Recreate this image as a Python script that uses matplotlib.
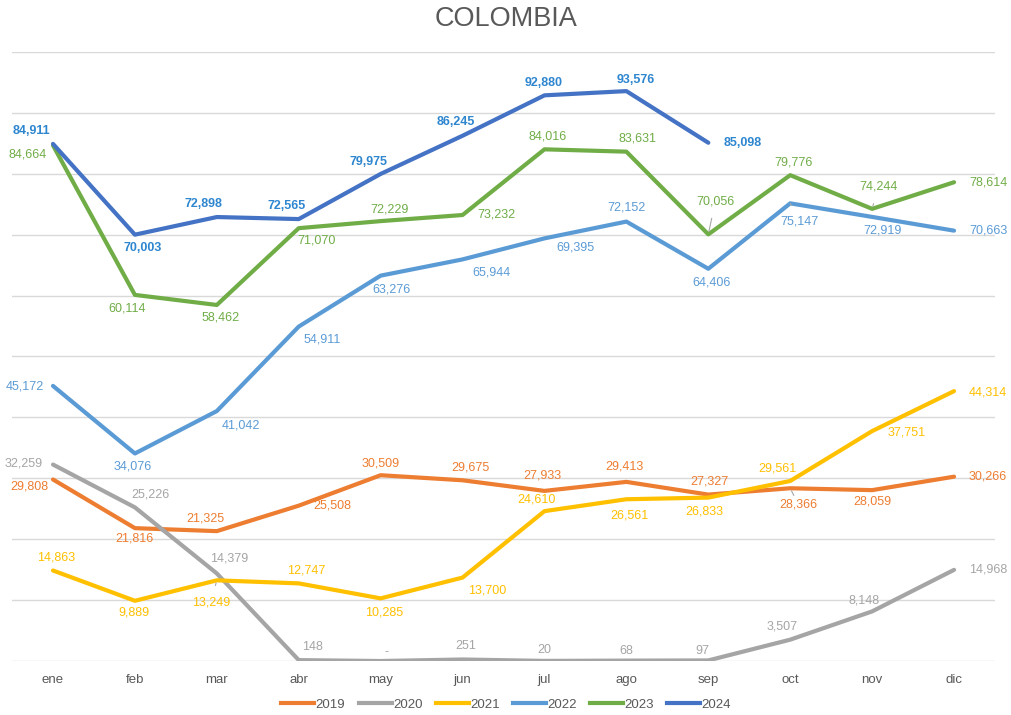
import matplotlib
matplotlib.use("Agg")
import matplotlib.pyplot as plt
from matplotlib.lines import Line2D

plt.rcParams['font.family'] = ['Liberation Sans', 'DejaVu Sans']

meses = ['ene', 'feb', 'mar', 'abr', 'may', 'jun', 'jul', 'ago', 'sep', 'oct', 'nov', 'dic']

v2019 = [29808, 21816, 21325, 25508, 30509, 29675, 27933, 29413, 27327, 28366, 28059, 30266]
v2020 = [32259, 25226, 14379, 148, 0, 251, 20, 68, 97, 3507, 8148, 14968]
v2021 = [14863, 9889, 13249, 12747, 10285, 13700, 24610, 26561, 26833, 29561, 37751, 44314]
v2022 = [45172, 34076, 41042, 54911, 63276, 65944, 69395, 72152, 64406, 75147, 72919, 70663]
v2023 = [84664, 60114, 58462, 71070, 72229, 73232, 84016, 83631, 70056, 79776, 74244, 78614]
v2024 = [84911, 70003, 72898, 72565, 79975, 86245, 92880, 93576, 85098]

# label offsets in pixels (dx, dy with dy downwards)
off2019 = [(-24, 7), (0, 10), (-11, -13), (34, 0), (0, -12), (8, -13), (-2, -15), (-2, -15), (1, -13), (8, 16), (0, 11), (34, 0)]
off2020 = [(-29, -1), (16, -13), (12, -15), (14, -13), (6, -9), (3, -13), (0, -11), (0, -10), (-6, -9), (-8, -13), (-8, -11), (34, 0)]
off2021 = [(3, -13), (-1, 12), (-6, 22), (8, -13), (3, 14), (25, 13), (-8, -12), (3, 16), (-4, 14), (-13, -12), (34, 1), (34, 1)]
off2022 = [(-28, 1), (-2, 13), (24, 14), (23, 13), (11, 14), (29, 13), (31, 9), (0, -14), (3, 14), (9, 18), (10, 14), (34, 0)]
off2023 = [(-25, 9), (-8, 14), (4, 13), (18, 12), (9, -12), (34, -1), (3, -13), (11, -13), (7, -33), (3, -13), (6, -22), (34, 0)]
off2024 = [(-22, -13), (8, 13), (-13, -13), (-12, -13), (-12, -12), (-7, -14), (-1, -12), (9, -11), (34, 0)]

lider2019 = [9]
lider2021 = [2]
lider2022 = [9]
lider2023 = [8, 10]

series = [
    ('2019', v2019, off2019, lider2019, '#ED7D31', '#ED7D31', 'normal'),
    ('2020', v2020, off2020, [], '#A5A5A5', '#A5A5A5', 'normal'),
    ('2021', v2021, off2021, lider2021, '#FFC000', '#FFC000', 'normal'),
    ('2022', v2022, off2022, lider2022, '#5B9BD5', '#5B9BD5', 'normal'),
    ('2023', v2023, off2023, lider2023, '#70AD47', '#70AD47', 'normal'),
    ('2024', v2024, off2024, [], '#4472C4', '#2E86CF', 'bold'),
]

fig = plt.figure(figsize=(10.12, 7.15), dpi=100)
ax = fig.add_axes([0.0119, 0.0755, 0.9713, 0.8518])

for nombre, vals, offs, lider, col, tcol, peso in series:
    x = list(range(len(vals)))
    ax.plot(x, vals, color=col, lw=3, solid_capstyle='round', solid_joinstyle='round', zorder=3)
    for i, v in enumerate(vals):
        txt = '-' if v == 0 else f'{v:,}'
        dx, dy = offs[i]
        kw = {}
        if i in lider:
            kw['arrowprops'] = dict(arrowstyle='-', color='#A6A6A6', lw=0.8, shrinkA=6, shrinkB=2)
        ax.annotate(txt, (i, v), xytext=(dx, -dy), textcoords='offset pixels',
                    ha='center', va='center', fontsize=9, color=tcol, fontweight=peso,
                    zorder=4, **kw)

ax.set_xlim(-0.5, 11.5)
ax.set_ylim(0, 100000)
ax.set_yticks(range(0, 100001, 10000))
ax.set_yticklabels([])
ax.tick_params(axis='y', length=0)
ax.set_xticks(range(12))
ax.set_xticklabels(meses, fontsize=9.5, color='#595959')
ax.tick_params(axis='x', length=0, pad=9)
ax.grid(axis='y', color='#D9D9D9', lw=1)
ax.set_axisbelow(True)
for s in ax.spines.values():
    s.set_visible(False)

fig.text(0.5, 0.973, 'COLOMBIA', ha='center', va='center', fontsize=19.5, color='#595959')

handles = [Line2D([0], [0], color=s[4], lw=3) for s in series]
fig.legend(handles, [s[0] for s in series], loc='center', bbox_to_anchor=(0.5, 0.014),
           ncol=6, frameon=False, fontsize=9.5, handlelength=2.5, handletextpad=0.1,
           columnspacing=1.0, labelcolor='#595959')

fig.savefig('out.png', dpi=100)
